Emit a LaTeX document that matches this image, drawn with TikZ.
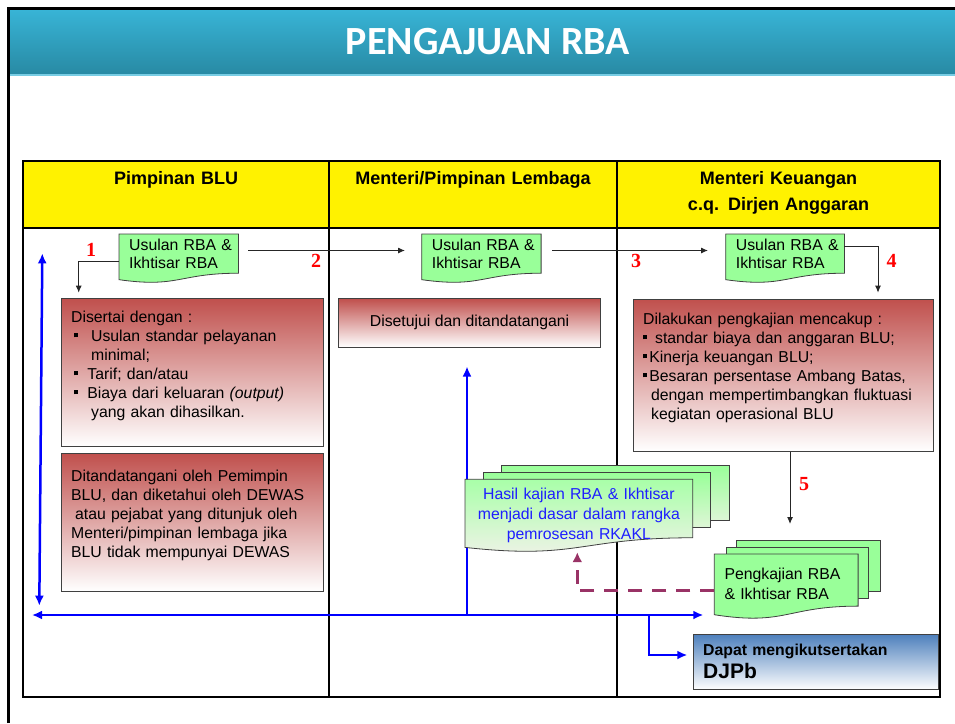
\documentclass[tikz,border=0pt]{standalone}
\usepackage{fontspec}
\setmainfont{Liberation Sans}
\newfontfamily\titlefont{Carlito}
\newfontfamily\numfont{Liberation Serif}
\usetikzlibrary{arrows.meta,calc}
\pgfdeclarelayer{back}
\pgfdeclarelayer{mid}
\pgfsetlayers{back,mid,main}
\definecolor{hdrtop}{RGB}{56,180,214}
\definecolor{hdrbot}{RGB}{40,138,164}
\definecolor{hdrline}{RGB}{120,205,228}
\definecolor{boxred}{RGB}{192,80,77}
\definecolor{docgreen}{RGB}{153,255,153}
\definecolor{docpale}{RGB}{242,242,234}
\definecolor{docpale2}{RGB}{222,246,214}
\definecolor{edge}{RGB}{64,64,64}
\definecolor{purp}{RGB}{153,51,102}
\definecolor{djpbblue}{RGB}{79,129,189}
\definecolor{hasilblue}{RGB}{30,30,255}
\newcommand\sqb{\rule[4pt]{4pt}{4pt}}
\tikzset{
 body/.style={font=\fontsize{15.8}{19}\selectfont},
 redbox/.style={draw=edge, line width=0.8pt, top color=boxred, bottom color=white,
   anchor=north west, inner xsep=10pt, inner ysep=0pt, align=left, body},
 docnode/.style={anchor=north west, inner xsep=10pt, inner ysep=0pt, align=left,
   font=\fontsize{15.8}{17.6}\selectfont},
 docpath/.style={insert path={(#1.north west) -- (#1.north east) --
   ($(#1.north east)!0.802!(#1.south east)$) .. controls ($(#1.north)!0.802!(#1.south)$)
   and ($(#1.north)!1.107!(#1.south)$) .. ($(#1.north west)!0.934!(#1.south west)$) -- cycle}},
 docshape/.style={draw=edge, line width=0.8pt, fill=docgreen},
 pageshape/.style={draw=edge, line width=0.8pt},
 blk/.style={draw=black!85, line width=1pt, -{Latex[length=7pt,width=6pt]}},
 blu/.style={draw=blue, line width=2.5pt},
 bluboth/.style={blu, {Latex[length=10pt,width=9pt]}-{Latex[length=10pt,width=9pt]}},
 bluone/.style={blu, -{Latex[length=10pt,width=9pt]}},
 purpdash/.style={draw=purp, line width=3pt, dash pattern=on 14pt off 10pt,
   -{Latex[length=10pt,width=10pt]}},
 num/.style={font=\numfont\bfseries\fontsize{20}{20}\selectfont, text=red},
 colhead/.style={font=\bfseries\fontsize{18}{26.5}\selectfont, anchor=base,
   align=center, text width=290pt, inner sep=0pt},
}
\begin{document}
\begin{tikzpicture}[x=1pt,y=-1pt]
\useasboundingbox (0,0) rectangle (955,723);

% ---------- title ----------
\node[anchor=base, text=white, inner sep=0pt,
  font=\titlefont\bfseries\fontsize{40}{40}\selectfont] (title) at (488,54) {PENGAJUAN RBA};

% ---------- column headers ----------
\node[colhead] (h1) at (176,184) {Pimpinan BLU};
\node[colhead] (h2) at (473,184) {Menteri/Pimpinan Lembaga};
\node[colhead] (h3) at (778.5,184) {Menteri Keuangan\\c.q. Dirjen Anggaran};

% ---------- documents ----------
\node[docnode, text width=99pt, text height=16.7pt, text depth=31.8pt] (doc1) at (119,234)
  {\mbox{Usulan RBA \&}\\Ikhtisar RBA};
\node[docnode, text width=99pt, text height=16.7pt, text depth=31.8pt] (doc2) at (421.7,234)
  {\mbox{Usulan RBA \&}\\Ikhtisar RBA};
\node[docnode, text width=98.3pt, text height=16.7pt, text depth=31.8pt] (doc3) at (725.7,234)
  {\mbox{Usulan RBA \&}\\Ikhtisar RBA};

% ---------- boxes ----------
\node[redbox, text width=242pt, text height=23.7pt, text depth=124pt] (boxA) at (60.7,298.3)
  {Disertai dengan :\\
   \hspace*{3.3pt}\sqb\hspace{12.7pt}Usulan standar pelayanan\\
   \hspace*{20pt}minimal;\\
   \hspace*{3.3pt}\sqb\hspace{9pt}Tarif; dan/atau\\
   \hspace*{3.3pt}\sqb\hspace{9pt}Biaya dari keluaran \textit{(output)}\\
   \hspace*{20pt}yang akan dihasilkan.};
\node[redbox, text width=242pt, text height=27.4pt, text depth=110pt] (boxB) at (60.7,453.3)
  {Ditandatangani oleh Pemimpin\\
   BLU, dan diketahui oleh DEWAS\\
   \hspace*{4pt}atau pejabat yang ditunjuk oleh\\
   Menteri/pimpinan lembaga jika\\
   BLU tidak mempunyai DEWAS};
\node[redbox, align=center, inner ysep=0pt, minimum width=261.7pt, minimum height=48.4pt]
  (boxC) at (338.3,298.3) {Disetujui dan ditandatangani};
\node[redbox, text width=280.6pt, text height=25.3pt, text depth=126.7pt] (boxD) at (632.7,298.7)
  {Dilakukan pengkajian mencakup :\\
   \sqb\hspace{8pt}standar biaya dan anggaran BLU;\\
   \sqb\hspace{2.3pt}Kinerja keuangan BLU;\\
   \sqb\hspace{2.3pt}Besaran persentase Ambang Batas,\\
   \hspace*{8pt}dengan mempertimbangkan fluktuasi\\
   \hspace*{8pt}kegiatan operasional BLU};

% ---------- stacked documents ----------
\node[docnode, align=center, text width=207.3pt, text height=19.7pt, text depth=52.8pt,
  text=hasilblue, font=\fontsize{15.8}{20}\selectfont] (hasil) at (465,479.3)
  {Hasil kajian RBA \& Ikhtisar\\menjadi dasar dalam rangka\\pemrosesan RKAKL};
\node[docnode, text width=123.4pt, text height=25pt, text depth=39.6pt,
  font=\fontsize{15.8}{20.7}\selectfont] (pk) at (714.3,554)
  {Pengkajian RBA\\\& Ikhtisar RBA};

% ---------- DJPb ----------
\node[draw=edge, line width=1pt, top color=djpbblue, bottom color=white, anchor=north west,
  inner xsep=10pt, inner ysep=0pt, align=left, text width=225.6pt, text height=20.7pt,
  text depth=34.3pt, font=\bfseries\fontsize{15.8}{23}\selectfont] (djpb) at (692.7,634.3)
  {Dapat mengikutsertakan\\{\fontsize{21}{23}\selectfont DJPb}};

% ---------- numbers ----------
\node[num] (n1) at (91,249.5) {1};
\node[num] (n2) at (316,261) {2};
\node[num] (n3) at (636,261) {3};
\node[num] (n4) at (891.7,261) {4};
\node[num] (n5) at (804,484) {5};

% ---------- shapes (mid layer) ----------
\begin{pgfonlayer}{mid}
 \path[docshape, docpath=doc1];
 \path[docshape, docpath=doc2];
 \path[docshape, docpath=doc3];
 \path[pageshape, top color=docgreen, bottom color=docpale2] (501,465) rectangle (729.3,520.7);
 \path[pageshape, top color=docgreen, bottom color=docpale2] (483.3,472.7) rectangle (710,527);
 \path[pageshape, top color=docgreen!85!white, bottom color=docpale, docpath=hasil];
 \path[pageshape, fill=docgreen] (736.7,540.7) rectangle (880.7,591.7);
 \path[pageshape, fill=docgreen] (726,547.3) rectangle (868.7,598);
 \path[docshape, docpath=pk];
\end{pgfonlayer}

% ---------- background: header, frame, table, blue lines ----------
\begin{pgfonlayer}{back}
 \shade[top color=hdrtop, bottom color=hdrbot] (9.5,9.5) rectangle (955,74);
 \draw[hdrline, line width=1.5pt] (9.5,75) -- (955,75);
 \draw[line width=3pt] (8,723) -- (8,8) -- (955,8);
 \fill[yellow] (23,161) rectangle (940,228);
 \draw[line width=2.5pt] (23,161) rectangle (940,697);
 \draw[line width=2.5pt] (23,228) -- (940,228);
 \draw[line width=2pt] (329,161) -- (329,697);
 \draw[line width=2pt] (617,161) -- (617,697);
 \coordinate (bl1) at (42.3,253.3);
 \coordinate (bl2) at (39.3,605.7);
 \coordinate (hl) at (32,615);
 \coordinate (vj) at (467,615);
 \coordinate (bj) at (649,615);
 \draw[bluboth] (bl1) -- (bl2);
 \draw[bluboth] (hl) -- ($(pk.north west)+(-11,61)$);
 \draw[bluone] (vj) -- ($(boxC.south west)+(128.7,19)$);
 \draw[bluone] (bj) |- ($(djpb.north west)+(-5.4,20.7)$);
\end{pgfonlayer}

% ---------- black connectors ----------
\draw[blk] ($(doc1.north west)+(0,27.7)$) -| ($(boxA.north west)+(18,-5.6)$);
\draw[blk] ($(doc1.north east)+(9.7,16.5)$) -- ($(doc2.north west)+(-16.7,16.5)$);
\draw[blk] ($(doc2.north east)+(11,16.5)$) -- ($(doc3.north west)+(-17.7,16.5)$);
\draw[blk] ($(doc3.north east)+(0,12.7)$) -| ($(boxD.north west)+(245.3,-6)$);
\draw[blk] ($(boxD.south west)+(157.3,0)$) -- ($(pk.north west)+(75.7,-30)$);
\draw[purpdash] ($(pk.north west)+(0,36.7)$) -| ($(hasil.south west)+(112.3,0)$);
\end{tikzpicture}
\end{document}
